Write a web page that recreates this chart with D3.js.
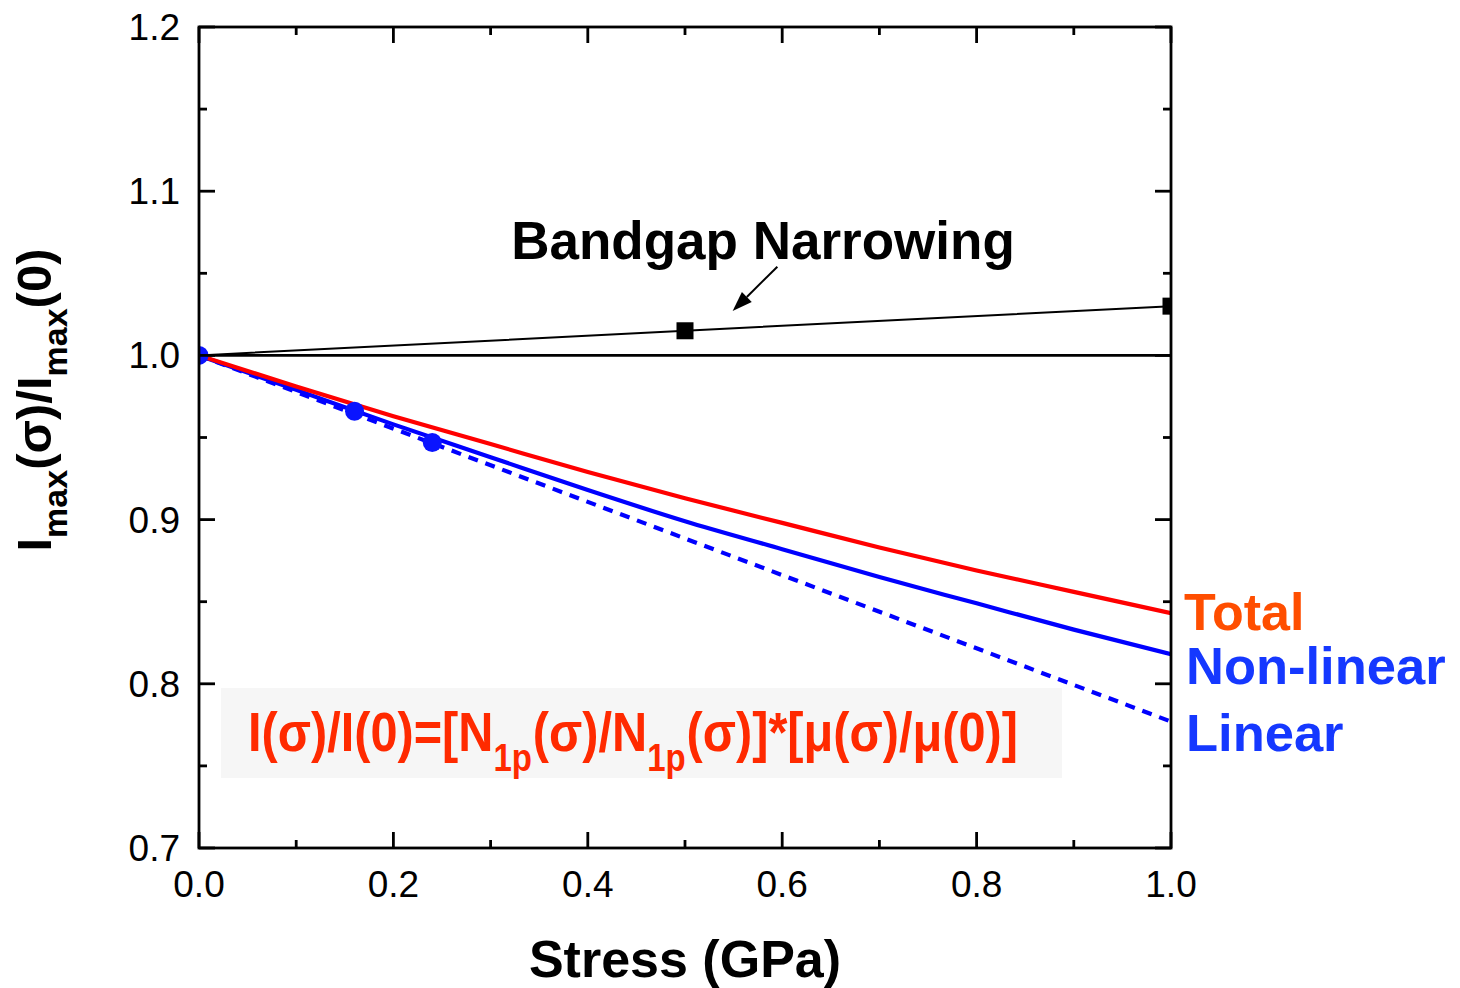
<!DOCTYPE html>
<html>
<head>
<meta charset="utf-8">
<script src="https://cdn.jsdelivr.net/npm/d3@7"></script>
<style>
  html, body { margin: 0; padding: 0; background: #ffffff; }
  svg { display: block; }
  text { font-family: "Liberation Sans", Arial, sans-serif; }
</style>
</head>
<body>
<svg id="chart" width="1460" height="988"></svg>
<script>
// Stress axis (GPa) and the normalised peak current curves
const stress = [0, 0.1, 0.2, 0.3, 0.4, 0.5, 0.6, 0.7, 0.8, 0.9, 1.0];
const totalRatio = [1.0, 0.981, 0.963, 0.946, 0.929, 0.913, 0.898, 0.883, 0.869, 0.856, 0.843];
const nonlinearRatio = [1.0, 0.979, 0.958, 0.938, 0.918, 0.899, 0.882, 0.865, 0.849, 0.833, 0.818];
const linearStress = [0, 1.0];
const linearRatio = [1.0, 0.777];

// Bandgap narrowing contribution (squares)
const bandgapStress = [0, 0.5, 1.0];
const bandgapRatio = [1.0, 1.015, 1.03];

// Measured points (circles)
const measuredStress = [0, 0.16, 0.24];
const measuredRatio = [1.0, 0.966, 0.947];

// Unity reference line
const refStress = [0, 1.0];
const refRatio = [1.0, 1.0];

const xTicks = [0, 0.2, 0.4, 0.6, 0.8, 1.0];
const xMinorTicks = [0.1, 0.3, 0.5, 0.7, 0.9];
const yTicks = [0.7, 0.8, 0.9, 1.0, 1.1, 1.2];
const yMinorTicks = [0.75, 0.85, 0.95, 1.05, 1.15];

const svg = d3.select("#chart");
const L = 199, R = 1171, T = 27, B = 848;

const x = d3.scaleLinear().domain([0, 1.0]).range([L, R]);
const y = d3.scaleLinear().domain([0.7, 1.2]).range([B, T]);

svg.append("rect").attr("width", 1460).attr("height", 988).attr("fill", "#ffffff");

svg.append("defs").append("clipPath").attr("id", "plotClip")
  .append("rect").attr("x", L).attr("y", T).attr("width", R - L).attr("height", B - T);

// Formula panel background
svg.append("rect")
  .attr("x", 221).attr("y", 688).attr("width", 841).attr("height", 90)
  .attr("fill", "#f6f6f6");

const plot = svg.append("g").attr("clip-path", "url(#plotClip)");
const line = d3.line().x(d => x(d[0])).y(d => y(d[1]));
const zip = (a, b) => a.map((v, i) => [v, b[i]]);

// Reference line at unity
plot.append("path").datum(zip(refStress, refRatio))
  .attr("d", line).attr("fill", "none").attr("stroke", "#000").attr("stroke-width", 2.8);

// Bandgap narrowing
plot.append("path").datum(zip(bandgapStress, bandgapRatio))
  .attr("d", line).attr("fill", "none").attr("stroke", "#000").attr("stroke-width", 2);

// Linear (dashed)
plot.append("path").datum(zip(linearStress, linearRatio))
  .attr("d", line).attr("fill", "none").attr("stroke", "#0000ff")
  .attr("stroke-width", 4.2).attr("stroke-dasharray", "10,8");

// Non-linear
plot.append("path").datum(zip(stress, nonlinearRatio))
  .attr("d", line.curve(d3.curveMonotoneX)).attr("fill", "none")
  .attr("stroke", "#0000ff").attr("stroke-width", 4.2);

// Total
plot.append("path").datum(zip(stress, totalRatio))
  .attr("d", line.curve(d3.curveMonotoneX)).attr("fill", "none")
  .attr("stroke", "#ff0000").attr("stroke-width", 4.2);

// Square markers
plot.selectAll("rect.sq").data(zip(bandgapStress, bandgapRatio).slice(1))
  .enter().append("rect").attr("class", "sq")
  .attr("x", d => x(d[0]) - 8.5).attr("y", d => y(d[1]) - 8.5)
  .attr("width", 17).attr("height", 17).attr("fill", "#000");

// Circle markers
plot.selectAll("circle.pt").data(zip(measuredStress, measuredRatio))
  .enter().append("circle").attr("class", "pt")
  .attr("cx", d => x(d[0])).attr("cy", d => y(d[1])).attr("r", 9.5)
  .attr("fill", "#0a14ff");

// Frame
svg.append("rect").attr("x", L).attr("y", T).attr("width", R - L).attr("height", B - T)
  .attr("fill", "none").attr("stroke", "#000").attr("stroke-width", 2.8);

// Inward ticks on all four sides
const tk = svg.append("g").attr("stroke", "#000").attr("stroke-width", 2.8);
xTicks.forEach(v => {
  tk.append("line").attr("x1", x(v)).attr("x2", x(v)).attr("y1", B).attr("y2", B - 16);
  tk.append("line").attr("x1", x(v)).attr("x2", x(v)).attr("y1", T).attr("y2", T + 16);
});
xMinorTicks.forEach(v => {
  tk.append("line").attr("x1", x(v)).attr("x2", x(v)).attr("y1", B).attr("y2", B - 8);
  tk.append("line").attr("x1", x(v)).attr("x2", x(v)).attr("y1", T).attr("y2", T + 8);
});
yTicks.forEach(v => {
  tk.append("line").attr("x1", L).attr("x2", L + 16).attr("y1", y(v)).attr("y2", y(v));
  tk.append("line").attr("x1", R).attr("x2", R - 16).attr("y1", y(v)).attr("y2", y(v));
});
yMinorTicks.forEach(v => {
  tk.append("line").attr("x1", L).attr("x2", L + 8).attr("y1", y(v)).attr("y2", y(v));
  tk.append("line").attr("x1", R).attr("x2", R - 8).attr("y1", y(v)).attr("y2", y(v));
});

// Tick labels
svg.selectAll("text.xt").data(xTicks).enter().append("text")
  .attr("x", d => x(d)).attr("y", 897).attr("text-anchor", "middle")
  .attr("font-size", 37).attr("fill", "#000").text(d => d.toFixed(1));
svg.selectAll("text.yt").data(yTicks).enter().append("text")
  .attr("x", 180).attr("y", d => y(d) + 13).attr("text-anchor", "end")
  .attr("font-size", 37).attr("fill", "#000").text(d => d.toFixed(1));

// Axis titles
svg.append("text").attr("x", 685).attr("y", 977).attr("text-anchor", "middle")
  .attr("font-size", 52).attr("font-weight", "bold").attr("fill", "#000")
  .text("Stress (GPa)");

const yt = svg.append("text")
  .attr("transform", "translate(51,400) rotate(-90)")
  .attr("text-anchor", "middle").attr("font-weight", "bold")
  .attr("font-size", 49).attr("fill", "#000");
yt.append("tspan").text("I");
yt.append("tspan").attr("font-size", 34).attr("dy", 16).text("max");
yt.append("tspan").attr("dy", -16).text("(σ)/I");
yt.append("tspan").attr("font-size", 34).attr("dy", 16).text("max");
yt.append("tspan").attr("dy", -16).text("(0)");

// Annotation
svg.append("text").attr("x", 763).attr("y", 259).attr("text-anchor", "middle")
  .attr("font-size", 53).attr("font-weight", "bold").attr("fill", "#000")
  .text("Bandgap Narrowing");

const arrowStart = [0.595, 1.054];
const arrowEnd = [0.549, 1.027];
const ax1 = x(arrowStart[0]), ay1 = y(arrowStart[1]);
const ax2 = x(arrowEnd[0]), ay2 = y(arrowEnd[1]);
const ang = Math.atan2(ay2 - ay1, ax2 - ax1);
const hl = 20, hw = 7;
const bx = ax2 - hl * Math.cos(ang), by = ay2 - hl * Math.sin(ang);
svg.append("line").attr("x1", ax1).attr("y1", ay1).attr("x2", bx).attr("y2", by)
  .attr("stroke", "#000").attr("stroke-width", 2);
svg.append("path")
  .attr("d", `M${ax2},${ay2} L${bx + hw * Math.sin(ang)},${by - hw * Math.cos(ang)} L${bx - hw * Math.sin(ang)},${by + hw * Math.cos(ang)} Z`)
  .attr("fill", "#000");

// Curve labels
svg.append("text").attr("x", 1184).attr("y", 630)
  .attr("font-size", 52).attr("font-weight", "bold").attr("fill", "#ff4e00").text("Total");
svg.append("text").attr("x", 1186).attr("y", 684)
  .attr("font-size", 52.5).attr("font-weight", "bold").attr("fill", "#1538ff").text("Non-linear");
svg.append("text").attr("x", 1186).attr("y", 751)
  .attr("font-size", 52.5).attr("font-weight", "bold").attr("fill", "#1538ff").text("Linear");

// Formula: pieces laid out left to right, then condensed horizontally to fit the panel
const formulaPieces = [
  { t: "I(σ)/I(0)=[N", sub: false },
  { t: "1p", sub: true },
  { t: "(σ)/N", sub: false },
  { t: "1p", sub: true },
  { t: "(σ)]*[μ(σ)/μ(0)]", sub: false }
];
const fg = svg.append("g");
const fInner = fg.append("g");
let cursor = 0;
formulaPieces.forEach(p => {
  const el = fInner.append("text")
    .attr("x", cursor).attr("y", p.sub ? 20 : 0)
    .attr("font-size", p.sub ? 38 : 56).attr("font-weight", "bold")
    .attr("fill", "#ff2a00").text(p.t);
  cursor += el.node().getComputedTextLength() + (p.sub ? 1 : 0);
});
const sx = 770 / cursor;
fg.attr("transform", `translate(248,751) scale(${sx},1)`);
</script>
</body>
</html>
